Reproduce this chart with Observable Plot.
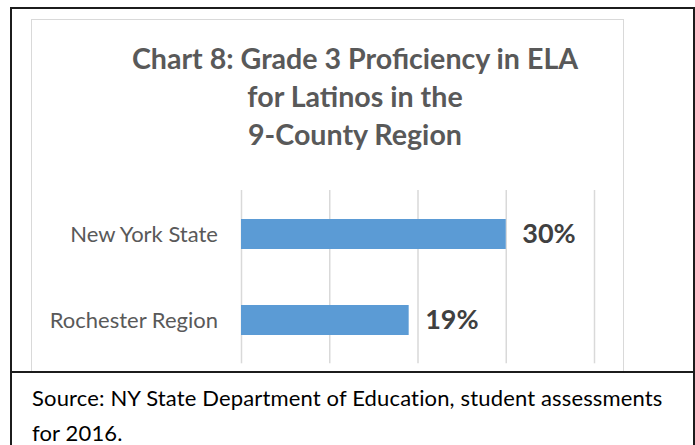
<!DOCTYPE html>
<html>
<head>
<meta charset="utf-8">
<script src="https://cdn.jsdelivr.net/npm/d3@7"></script>
<script src="https://cdn.jsdelivr.net/npm/@observablehq/plot@0.6"></script>
<style>
  html, body { margin: 0; padding: 0; background: #fff; width: 695px; height: 445px; overflow: hidden; }
  body { position: relative; font-family: Lato, "Open Sans", sans-serif; }
  .outer { position: absolute; left: 10px; top: 7px; width: 685px; height: 470px; box-sizing: border-box; border: 2px solid #1c1c1c; }
  .inner { position: absolute; left: 31px; top: 19px; width: 593px; height: 354px; box-sizing: border-box; border: 1.5px solid #d9d9d9; }
  .sep { position: absolute; left: 10px; top: 371px; width: 685px; height: 2px; background: #1c1c1c; }
  .title { position: absolute; left: 55px; width: 600px; top: 39px; text-align: center; font-weight: 700; font-size: 28.6px; line-height: 38px; color: #595959; white-space: nowrap; }
  .source { position: absolute; left: 32px; top: 379.5px; font-size: 22px; letter-spacing: 0.15px; line-height: 35.5px; color: #000; white-space: nowrap; }
  #chart { position: absolute; left: 31px; top: 170px; }
  #chart svg { overflow: visible; }
</style>
</head>
<body>
<div class="outer"></div>
<div class="inner"></div>
<div class="title" id="title"></div>
<div id="chart"></div>
<div class="sep"></div>
<div class="source" id="source"></div>
<script>
const titleLines = ["Chart 8: Grade 3 Proficiency in ELA", "for Latinos in the", "9-County Region"];
const categories = ["New York State", "Rochester Region"];
const values = [30, 19];
const gridTicks = [0, 10, 20, 30, 40];
const sourceLines = ["Source: NY State Department of Education, student assessments", "for 2016."];

document.getElementById("title").innerHTML = titleLines.join("<br>");
document.getElementById("source").innerHTML = sourceLines.join("<br>");

const data = categories.map((c, i) => ({category: c, value: values[i]}));

const chart = Plot.plot({
  width: 592,
  height: 202,
  marginLeft: 210,
  marginRight: 29,
  marginTop: 20,
  marginBottom: 8.7,
  style: {fontFamily: "Lato, 'Open Sans', sans-serif", background: "transparent", overflow: "visible"},
  x: {domain: [0, 40], axis: null},
  y: {domain: categories, padding: 0, axis: null},
  marks: [
    Plot.ruleX(gridTicks, {stroke: "#d9d9d9", strokeWidth: 1.5}),
    Plot.barX(data, {x: "value", y: "category", fill: "#5B9BD5", insetTop: 28, insetBottom: 28}),
    Plot.text(data, {x: "value", y: "category", text: d => d.value + "%", textAnchor: "start", dx: 16, fontSize: 27, fontWeight: "bold", fill: "#404040"}),
    Plot.axisY({tickSize: 0, tickPadding: 23.5, fontSize: 22, color: "#595959", label: null})
  ]
});
document.getElementById("chart").appendChild(chart);
</script>
</body>
</html>
